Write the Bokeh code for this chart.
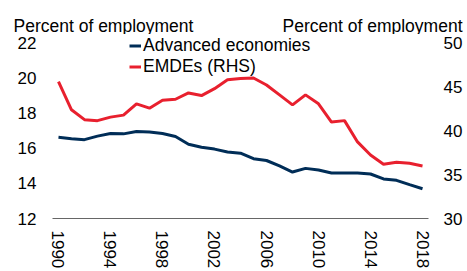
from bokeh.plotting import figure
from bokeh.layouts import column, row
from bokeh.models import Range1d, LinearAxis, Legend, LegendItem, Label, FixedTicker
from bokeh.embed import file_html
from bokeh.resources import INLINE

years = list(range(1990, 2019))
advanced = [16.63, 16.55, 16.5, 16.7, 16.85, 16.83, 16.96, 16.94, 16.85, 16.68,
            16.24, 16.07, 15.96, 15.79, 15.73, 15.41, 15.31, 15.0, 14.65, 14.86,
            14.77, 14.6, 14.6, 14.6, 14.54, 14.26, 14.18, 13.93, 13.7]
emdes = [45.61, 42.41, 41.28, 41.17, 41.57, 41.80, 43.09, 42.59, 43.50, 43.61,
         44.33, 44.03, 44.82, 45.84, 45.98, 46.03, 45.24, 44.11, 42.97, 44.11,
         43.09, 41.01, 41.17, 38.74, 37.24, 36.19, 36.41, 36.30, 36.0]
left_ticks = [12, 14, 16, 18, 20, 22]
right_ticks = [30, 35, 40, 45, 50]
x_ticks = list(range(1990, 2019, 4))
series_names = ["Advanced economies", "EMDEs (RHS)"]
axis_title = "Percent of employment"

FONT = "Liberation Sans"
FS = "17px"
FS_T = "17.5px"
BLUE = "#002D57"
RED = "#E8202E"

W = 467
TOP_H = 34
MAIN_H = 271 - TOP_H
HW_L = 234
HW_R = W - HW_L


def header(width, x, align):
    h = figure(width=width, height=TOP_H, output_backend="svg",
               toolbar_location=None, x_range=Range1d(0, 1), y_range=Range1d(0, 1),
               x_axis_location=None, y_axis_location=None,
               min_border_left=0, min_border_right=0, min_border_top=0,
               min_border_bottom=0)
    h.outline_line_color = None
    h.xgrid.visible = False
    h.ygrid.visible = False
    h.background_fill_alpha = 0
    h.border_fill_alpha = 0
    h.add_layout(Label(x=x, y=25, x_units="canvas", y_units="canvas",
                       text=axis_title, text_font=FONT, text_font_size=FS_T,
                       text_color="black", text_baseline="alphabetic",
                       text_align=align), "above")
    return h


h_left = header(HW_L, 13, "left")
h_right = header(HW_R, 462 - HW_L, "right")

# ---- main chart ----
p = figure(width=W, height=MAIN_H, output_backend="svg", toolbar_location=None,
           x_range=Range1d(1989.54, 2018.46), y_range=Range1d(12, 22.5),
           min_border_left=52, min_border_right=39, min_border_top=0,
           min_border_bottom=52)
p.outline_line_color = None
p.background_fill_alpha = 0
p.border_fill_alpha = 0
p.xgrid.visible = False
p.ygrid.visible = False
p.extra_y_ranges = {"right": Range1d(30, 51)}

for fig in (h_left, h_right, p):
    try:
        fig.frame_align = False
    except Exception:
        pass

r1 = p.line(years, advanced, line_color=BLUE, line_width=3)
r2 = p.line(years, emdes, line_color=RED, line_width=3, y_range_name="right")

# x axis
xa = p.xaxis[0]
xa.ticker = FixedTicker(ticks=x_ticks)
xa.major_label_orientation = "vertical"
xa.major_tick_out = 0
xa.major_tick_in = 0
xa.minor_tick_out = 0
xa.minor_tick_in = 0
xa.axis_line_color = "#666666"
xa.axis_line_width = 1
xa.major_label_standoff = 12
xa.major_label_text_font = FONT
xa.major_label_text_font_size = FS
xa.major_label_text_color = "black"

# left axis
ya = p.yaxis[0]
ya.ticker = FixedTicker(ticks=left_ticks)
ya.axis_line_color = None
ya.major_tick_out = 0
ya.major_tick_in = 0
ya.minor_tick_out = 0
ya.minor_tick_in = 0
ya.major_label_standoff = 16
ya.major_label_text_font = FONT
ya.major_label_text_font_size = FS
ya.major_label_text_color = "black"

# right axis
ra = LinearAxis(y_range_name="right", ticker=FixedTicker(ticks=right_ticks))
ra.axis_line_color = None
ra.major_tick_out = 0
ra.major_tick_in = 0
ra.minor_tick_out = 0
ra.minor_tick_in = 0
ra.major_label_standoff = 15
ra.major_label_text_font = FONT
ra.major_label_text_font_size = FS
ra.major_label_text_color = "black"
p.add_layout(ra, "right")

legend = Legend(items=[LegendItem(label=series_names[0], renderers=[r1]),
                       LegendItem(label=series_names[1], renderers=[r2])],
                location=(77, 141), orientation="vertical",
                padding=0, margin=0, spacing=0,
                glyph_width=12, glyph_height=19, label_height=19,
                label_standoff=2,
                label_text_font=FONT, label_text_font_size=FS_T,
                label_text_color="black",
                border_line_color=None, background_fill_alpha=0)
p.add_layout(legend, "center")

layout = column(row(h_left, h_right, spacing=0), p, spacing=0)
open("out.html", "w").write(file_html(layout, INLINE))
